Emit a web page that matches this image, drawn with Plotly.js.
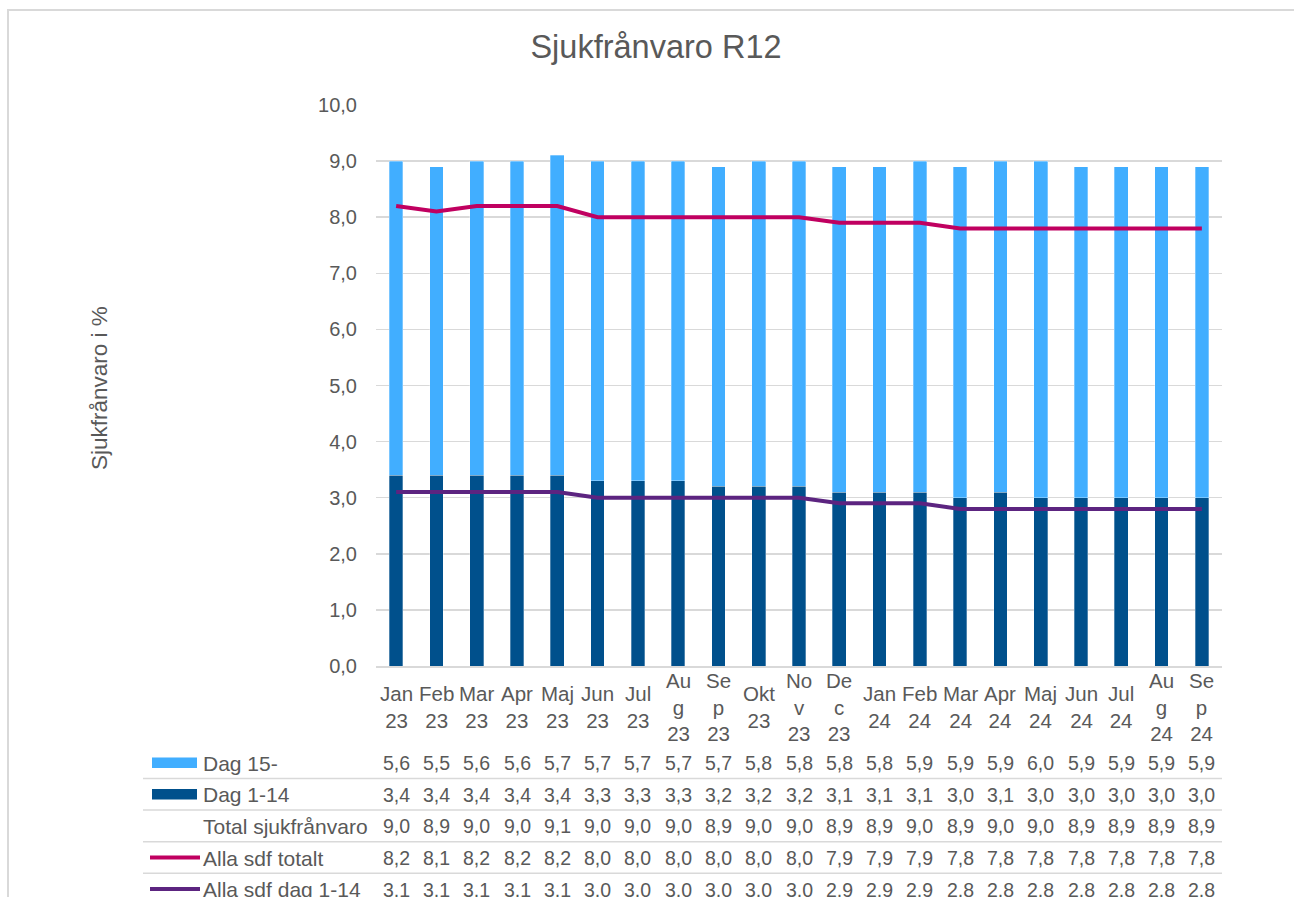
<!DOCTYPE html>
<html>
<head>
<meta charset="utf-8">
<script src="https://cdn.plot.ly/plotly-3.0.1.min.js"></script>
<style>
  html, body { margin: 0; padding: 0; background: #ffffff; overflow: hidden; }
  #chart { position: absolute; left: 0; top: 0; width: 1294px; height: 897px; }
  #frame { position: absolute; left: 7px; top: 9px; width: 1320px; height: 920px;
           border: 2px solid #d9d9d9; pointer-events: none; box-sizing: border-box; }
</style>
</head>
<body>
<div id="chart"></div>
<div id="frame"></div>
<script>
// ---- data ----
const categories = ["Jan 23","Feb 23","Mar 23","Apr 23","Maj 23","Jun 23","Jul 23","Aug 23","Sep 23","Okt 23","Nov 23","Dec 23",
                    "Jan 24","Feb 24","Mar 24","Apr 24","Maj 24","Jun 24","Jul 24","Aug 24","Sep 24"];
const tickLabels = ["Jan<br>23","Feb<br>23","Mar<br>23","Apr<br>23","Maj<br>23","Jun<br>23","Jul<br>23","Au<br>g<br>23","Se<br>p<br>23","Okt<br>23","No<br>v<br>23","De<br>c<br>23",
                    "Jan<br>24","Feb<br>24","Mar<br>24","Apr<br>24","Maj<br>24","Jun<br>24","Jul<br>24","Au<br>g<br>24","Se<br>p<br>24"];
const dag15 = [5.6,5.5,5.6,5.6,5.7,5.7,5.7,5.7,5.7,5.8,5.8,5.8,5.8,5.9,5.9,5.9,6.0,5.9,5.9,5.9,5.9];
const dag1_14 = [3.4,3.4,3.4,3.4,3.4,3.3,3.3,3.3,3.2,3.2,3.2,3.1,3.1,3.1,3.0,3.1,3.0,3.0,3.0,3.0,3.0];
const totalSjuk = [9.0,8.9,9.0,9.0,9.1,9.0,9.0,9.0,8.9,9.0,9.0,8.9,8.9,9.0,8.9,9.0,9.0,8.9,8.9,8.9,8.9];
const allaTotalt = [8.2,8.1,8.2,8.2,8.2,8.0,8.0,8.0,8.0,8.0,8.0,7.9,7.9,7.9,7.8,7.8,7.8,7.8,7.8,7.8,7.8];
const allaDag1_14 = [3.1,3.1,3.1,3.1,3.1,3.0,3.0,3.0,3.0,3.0,3.0,2.9,2.9,2.9,2.8,2.8,2.8,2.8,2.8,2.8,2.8];

const seriesNames = ["Dag 15-","Dag 1-14","Total sjukfrånvaro","Alla sdf totalt","Alla sdf dag 1-14"];
const titleText = "Sjukfrånvaro R12";
const yTitleText = "Sjukfrånvaro i %";

// ---- styles ----
const FONT = "Liberation Sans, Arial, sans-serif";
const TXT = "#595959";
const GRID = "#d9d9d9";
const C_LIGHT = "#41aeff", C_DARK = "#00508c", C_MAG = "#c00060", C_PUR = "#5c2480";
const W = 1294, H = 897;
const L = 376, R = 1222, T = 105, B = 666;
const px2x = px => (px - L) / (R - L);
const py2y = py => (B - py) / (B - T);
const fmt = v => v.toFixed(1).replace('.', ',');

const traces = [
  { type: 'bar', name: seriesNames[1], x: categories, y: dag1_14, width: 0.34,
    marker: { color: C_DARK, line: { color: 'rgba(255,255,255,0.5)', width: 0.6 } }, hoverinfo: 'skip' },
  { type: 'bar', name: seriesNames[0], x: categories, y: dag15, width: 0.34,
    marker: { color: C_LIGHT, line: { color: 'rgba(255,255,255,0.5)', width: 0.6 } }, hoverinfo: 'skip' },
  { type: 'scatter', mode: 'lines', name: seriesNames[3], x: categories, y: allaTotalt,
    line: { color: C_MAG, width: 4 }, hoverinfo: 'skip' },
  { type: 'scatter', mode: 'lines', name: seriesNames[4], x: categories, y: allaDag1_14,
    line: { color: C_PUR, width: 4 }, hoverinfo: 'skip' }
];

const annotations = [];
const shapes = [];

// x tick labels (vertically centred like the original)
categories.forEach((c, i) => {
  annotations.push({ x: c, xref: 'x', y: py2y(707), yref: 'paper', text: tickLabels[i],
    showarrow: false, xanchor: 'center', yanchor: 'middle', align: 'center',
    font: { family: FONT, size: 20.5, color: TXT } });
});

// data table
const rowData = [dag15, dag1_14, totalSjuk, allaTotalt, allaDag1_14];
const rowCenters = [763, 794.5, 826, 858, 889.5];
const lineYs = [778.5, 810, 841.7, 873.3];
rowData.forEach((arr, r) => {
  annotations.push({ x: px2x(201), xref: 'paper', y: py2y(rowCenters[r]), yref: 'paper',
    text: seriesNames[r], showarrow: false, xanchor: 'left', yanchor: 'middle',
    font: { family: FONT, size: 21, color: TXT } });
  arr.forEach((v, i) => {
    annotations.push({ x: categories[i], xref: 'x', y: py2y(rowCenters[r]), yref: 'paper',
      text: fmt(v), showarrow: false, xanchor: 'center', yanchor: 'middle',
      font: { family: FONT, size: 19.5, color: TXT } });
  });
});
lineYs.forEach(ly => {
  shapes.push({ type: 'line', xref: 'paper', yref: 'paper', x0: px2x(143), x1: 1,
    y0: py2y(ly), y1: py2y(ly), line: { color: GRID, width: 1.5 } });
});
// legend keys
shapes.push({ type: 'rect', xref: 'paper', yref: 'paper', x0: px2x(152), x1: px2x(197),
  y0: py2y(768), y1: py2y(757.5), fillcolor: C_LIGHT, line: { width: 0 } });
shapes.push({ type: 'rect', xref: 'paper', yref: 'paper', x0: px2x(152), x1: px2x(197),
  y0: py2y(799.5), y1: py2y(789), fillcolor: C_DARK, line: { width: 0 } });
shapes.push({ type: 'line', xref: 'paper', yref: 'paper', x0: px2x(150), x1: px2x(200),
  y0: py2y(857.5), y1: py2y(857.5), line: { color: C_MAG, width: 4 } });
shapes.push({ type: 'line', xref: 'paper', yref: 'paper', x0: px2x(150), x1: px2x(200),
  y0: py2y(889), y1: py2y(889), line: { color: C_PUR, width: 4 } });

// y-axis title
annotations.push({ x: px2x(100), xref: 'paper', y: py2y(388), yref: 'paper', text: yTitleText,
  textangle: -90, showarrow: false, xanchor: 'center', yanchor: 'middle',
  font: { family: FONT, size: 22.5, color: TXT } });

const layout = {
  width: W, height: H,
  margin: { l: L, r: W - R, t: T, b: H - B, pad: 0 },
  paper_bgcolor: '#ffffff', plot_bgcolor: '#ffffff',
  separators: ', ',
  barmode: 'stack',
  showlegend: false,
  font: { family: FONT, color: TXT },
  title: { text: titleText, x: 656 / W, xref: 'container', xanchor: 'center',
           y: 1 - 47 / H, yref: 'container', yanchor: 'middle',
           font: { family: FONT, size: 32.5, color: TXT } },
  xaxis: { type: 'category', categoryorder: 'array', categoryarray: categories,
           showticklabels: false, showgrid: false, zeroline: false,
           showline: true, linecolor: GRID, linewidth: 2, ticks: '', fixedrange: true },
  yaxis: { range: [0, 10], dtick: 1, tick0: 0, tickformat: '.1f',
           showgrid: true, gridcolor: GRID, gridwidth: 1.5, zeroline: false,
           showline: false, ticks: '', ticklabelstandoff: 18,
           tickfont: { family: FONT, size: 20, color: TXT }, fixedrange: true },
  annotations: annotations,
  shapes: shapes
};

Plotly.newPlot('chart', traces, layout, { staticPlot: true, displayModeBar: false });
</script>
</body>
</html>
